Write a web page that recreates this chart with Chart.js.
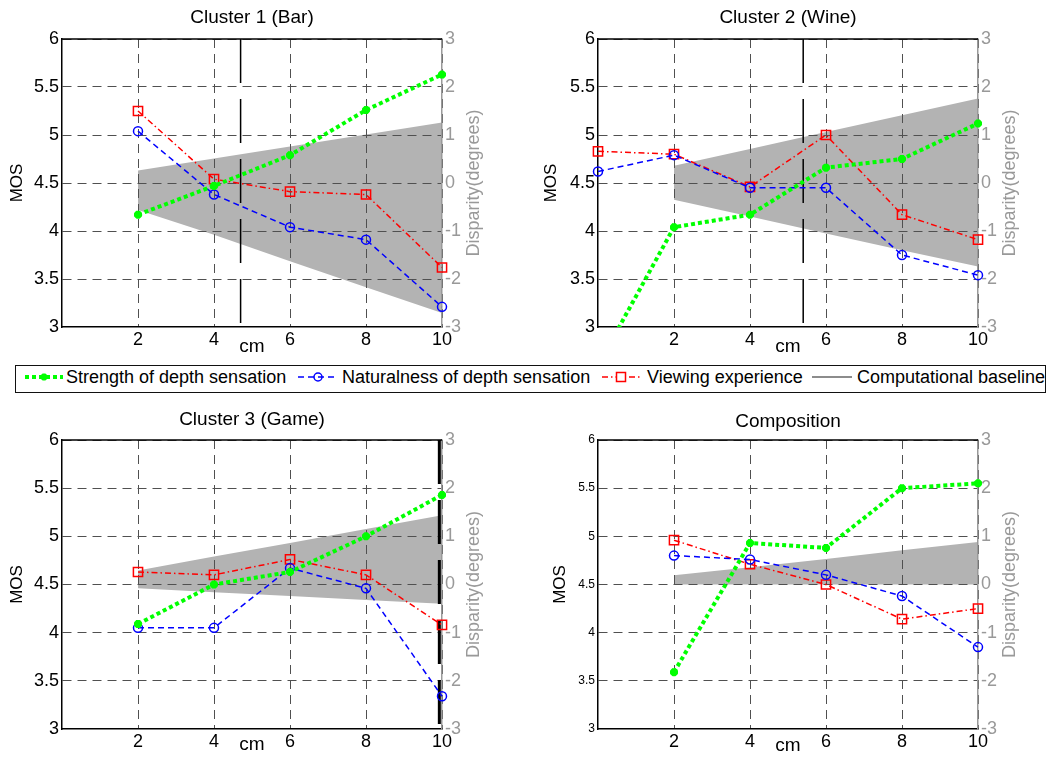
<!DOCTYPE html>
<html>
<head>
<meta charset="utf-8">
<script src="https://cdn.jsdelivr.net/npm/chart.js@4/dist/chart.umd.min.js"></script>
<style>
html,body{margin:0;padding:0;background:#fff;}
#wrap{position:relative;width:1050px;height:757px;overflow:hidden;font-family:'Liberation Sans',Arial,sans-serif;}
#wrap canvas{position:absolute;}
#legend{position:absolute;left:15px;top:365px;width:1031px;height:28px;border:1.5px solid #111;box-sizing:border-box;}
.li{position:absolute;top:367px;height:20px;line-height:20px;font-size:18px;color:#000;white-space:nowrap;}
.ls{position:absolute;top:367px;}
</style>
</head>
<body>
<div id="wrap">
  <canvas id="c1" width="525" height="360" style="left:0;top:0"></canvas>
  <canvas id="c2" width="525" height="360" style="left:525px;top:0"></canvas>
  <canvas id="c3" width="525" height="357" style="left:0;top:400px"></canvas>
  <canvas id="c4" width="525" height="357" style="left:525px;top:400px"></canvas>
  <div id="legend"></div>
</div>
<script>
// ---------------- DATA ----------------
const cmValues = [2, 4, 6, 8, 10];
const cmValuesWine = [0, 2, 4, 6, 8, 10];
const cmTicks = [2, 4, 6, 8, 10];
const mosTicks = [3, 3.5, 4, 4.5, 5, 5.5, 6];
const disparityTicks = [-3, -2, -1, 0, 1, 2, 3];

const seriesNames = ['Strength of depth sensation', 'Naturalness of depth sensation', 'Viewing experience', 'Computational baseline'];
const panelTitles = ['Cluster 1 (Bar)', 'Cluster 2 (Wine)', 'Cluster 3 (Game)', 'Composition'];

// Cluster 1 (Bar)
const barStrength    = [4.17, 4.47, 4.79, 5.26, 5.63];
const barNaturalness = [5.04, 4.38, 4.04, 3.91, 3.21];
const barViewing     = [5.25, 4.54, 4.41, 4.38, 3.62];
const barDispUpper   = [0.26, 0.51, 0.76, 1.01, 1.26];
const barDispLower   = [-0.56, -1.08, -1.63, -2.17, -2.71];

// Cluster 2 (Wine) - includes 0 cm
const wineStrength    = [2.6, 4.04, 4.17, 4.66, 4.75, 5.12];
const wineNaturalness = [4.62, 4.79, 4.45, 4.45, 3.75, 3.54];
const wineViewing     = [4.83, 4.80, 4.46, 5.00, 4.17, 3.91];
const wineDispUpper   = [0.36, 0.71, 1.06, 1.41, 1.76];
const wineDispLower   = [-0.35, -0.70, -1.05, -1.40, -1.74];

// Cluster 3 (Game)
const gameStrength    = [4.09, 4.50, 4.63, 5.00, 5.43];
const gameNaturalness = [4.05, 4.05, 4.67, 4.46, 3.34];
const gameViewing     = [4.63, 4.60, 4.76, 4.60, 4.08];
const gameDispUpper   = [0.29, 0.58, 0.86, 1.15, 1.44];
const gameDispLower   = [-0.08, -0.16, -0.24, -0.32, -0.40];

// Composition
const compStrength    = [3.59, 4.93, 4.88, 5.50, 5.55];
const compNaturalness = [4.80, 4.76, 4.60, 4.38, 3.85];
const compViewing     = [4.96, 4.71, 4.50, 4.14, 4.25];
const compDispUpper   = [0.19, 0.36, 0.53, 0.71, 0.88];
const compDispLower   = [0, 0, 0, 0, 0];

// Computational baseline (cm) per panel
const computationalBaseline = [4.7, 5.4, 9.93, null];

// ---------------- STYLE / LAYOUT ----------------
const FONT = "'Liberation Sans', Arial, sans-serif";
Chart.defaults.font.family = FONT;
const GREY = '#999999';
const GRID = '#505050';

const panels = [
  {xs: cmValues, s: barStrength, n: barNaturalness, v: barViewing, up: barDispUpper, lo: barDispLower},
  {xs: cmValuesWine, s: wineStrength, n: wineNaturalness, v: wineViewing, up: wineDispUpper, lo: wineDispLower},
  {xs: cmValues, s: gameStrength, n: gameNaturalness, v: gameViewing, up: gameDispUpper, lo: gameDispLower},
  {xs: cmValues, s: compStrength, n: compNaturalness, v: compViewing, up: compDispUpper, lo: compDispLower}
];

const layouts = [
  {id:'c1', w:525, h:360, left:62, right:442, top:39, bottom:327, titlePad:{top:6.6,bottom:9.6}, mosPad:6.8, cmPad:2, leftTick:18, baseW:1.5},
  {id:'c2', w:525, h:360, left:73, right:453, top:39, bottom:327, titlePad:{top:6.6,bottom:9.6}, mosPad:16.5, cmPad:2, leftTick:18, baseW:1.5},
  {id:'c3', w:525, h:357, left:62, right:442, top:40, bottom:329, titlePad:{top:8.6,bottom:8.6}, mosPad:6.8, cmPad:0.6, leftTick:18, baseW:3},
  {id:'c4', w:525, h:357, left:73, right:453, top:40, bottom:329, titlePad:{top:10.6,bottom:6.6}, mosPad:24.8, cmPad:0, leftTick:12, baseW:1.5}
];

const CLIP = {left: 10, top: 10, right: 10, bottom: 0};

function xy(xs, ys) { return ys.map((y, i) => ({x: xs[i], y: y})); }

const framePlugin = {
  id: 'frame',
  afterDraw(chart, args, opts) {
    const {ctx, chartArea: a} = chart;
    ctx.save();
    ctx.strokeStyle = '#000';
    ctx.lineWidth = 1.5;
    ctx.beginPath();
    ctx.moveTo(a.left, a.top);
    ctx.lineTo(a.right, a.top);
    ctx.stroke();
    ctx.fillStyle = opts.color;
    ctx.font = opts.size + 'px ' + FONT;
    ctx.translate(a.right + opts.offset, (a.top + a.bottom) / 2);
    ctx.rotate(-Math.PI / 2);
    ctx.textAlign = 'center';
    ctx.textBaseline = 'middle';
    ctx.fillText(opts.text, 0, 0);
    ctx.restore();
  }
};

function build(idx) {
  const L = layouts[idx], P = panels[idx];
  const dispX = cmValues;
  const datasets = [
    {label: seriesNames[0], data: xy(P.xs, P.s), yAxisID: 'y',
     borderColor: '#00ff00', backgroundColor: '#00ff00', borderWidth: 4, borderDash: [4, 3],
     pointStyle: 'star', pointRadius: 4, pointBorderWidth: 3, pointBorderColor: '#00ff00',
     tension: 0, clip: CLIP},
    {label: seriesNames[1], data: xy(P.xs, P.n), yAxisID: 'y',
     borderColor: '#0000ff', backgroundColor: 'rgba(0,0,0,0)', borderWidth: 1.5, borderDash: [6, 4],
     pointStyle: 'circle', pointRadius: 4.5, pointBorderWidth: 1.5, pointBorderColor: '#0000ff',
     pointBackgroundColor: 'rgba(0,0,0,0)', tension: 0, clip: CLIP},
    {label: seriesNames[2], data: xy(P.xs, P.v), yAxisID: 'y',
     borderColor: '#ff0000', backgroundColor: 'rgba(0,0,0,0)', borderWidth: 1.5, borderDash: [6, 3, 1.5, 3],
     pointStyle: 'rect', pointRadius: 6.5, pointBorderWidth: 1.5, pointBorderColor: '#ff0000',
     pointBackgroundColor: 'rgba(0,0,0,0)', tension: 0, clip: CLIP}
  ];
  const b = computationalBaseline[idx];
  if (b !== null) {
    datasets.push({label: seriesNames[3], data: [{x: b, y: mosTicks[mosTicks.length - 1]}, {x: b, y: mosTicks[0]}],
      yAxisID: 'y', borderColor: '#000', borderWidth: L.baseW, borderDash: [44, 16], pointRadius: 0, fill: false});
  }
  datasets.push({label: 'disparity upper', data: xy(dispX, P.up), yAxisID: 'y1',
    borderColor: 'rgba(0,0,0,0)', borderWidth: 0, pointRadius: 0, fill: '+1', backgroundColor: '#b3b3b3'});
  datasets.push({label: 'disparity lower', data: xy(dispX, P.lo), yAxisID: 'y1',
    borderColor: 'rgba(0,0,0,0)', borderWidth: 0, pointRadius: 0, fill: false});

  return new Chart(document.getElementById(L.id), {
    type: 'line',
    data: {datasets},
    plugins: [framePlugin],
    options: {
      responsive: false, animation: false, devicePixelRatio: 1, events: [],
      layout: {padding: 0},
      plugins: {
        legend: {display: false},
        tooltip: {enabled: false},
        filler: {drawTime: 'beforeDraw'},
        title: {display: true, text: panelTitles[idx], fullSize: false, color: '#000',
                font: {size: 19, weight: 'normal'}, padding: L.titlePad},
        frame: {text: 'Disparity(degrees)', color: GREY, size: 18, offset: 32}
      },
      scales: {
        x: {
          type: 'linear', position: 'bottom', min: 0, max: 10,
          afterBuildTicks: s => { s.ticks = cmTicks.map(v => ({value: v})); },
          afterFit: s => { s.height = L.h - L.bottom; },
          grid: {color: GRID, lineWidth: 1, drawTicks: false},
          border: {display: true, color: '#000', width: 1.5, dash: [9, 6]},
          ticks: {font: {size: 18}, color: '#000', padding: 2, maxRotation: 0, autoSkip: false,
                  callback: v => String(v)},
          title: {display: true, text: 'cm', color: '#000', font: {size: 19}, padding: {top: 0, bottom: L.cmPad}}
        },
        y: {
          type: 'linear', position: 'left', min: mosTicks[0], max: mosTicks[mosTicks.length - 1],
          afterBuildTicks: s => { s.ticks = mosTicks.map(v => ({value: v})); },
          afterFit: s => { s.width = L.left; },
          grid: {color: c => (c.tick && c.tick.value === mosTicks[0]) ? 'rgba(0,0,0,0)' : GRID, lineWidth: 1, drawTicks: false},
          border: {display: true, color: '#000', width: 1.5, dash: [9, 6]},
          ticks: {font: {size: L.leftTick}, color: '#000', padding: 3, callback: v => String(v)},
          title: {display: true, text: 'MOS', color: '#000', font: {size: 17}, padding: {top: L.mosPad, bottom: 0}}
        },
        y1: {
          type: 'linear', position: 'right', min: disparityTicks[0], max: disparityTicks[disparityTicks.length - 1],
          afterBuildTicks: s => { s.ticks = disparityTicks.map(v => ({value: v})); },
          afterFit: s => { s.width = L.w - L.right; },
          grid: {drawOnChartArea: false, drawTicks: false},
          border: {display: true, color: GREY, width: 1.5},
          ticks: {font: {size: 18}, color: GREY, padding: 3, callback: v => String(v)}
        }
      }
    }
  });
}

[0, 1, 2, 3].forEach(build);

// ---------------- LEGEND (HTML) ----------------
const legendTextX = [66, 342, 647, 857];
const legendSampleX = [25, 298, 602, 812];
const wrap = document.getElementById('wrap');
const samples = [
  '<svg width="38" height="20"><line x1="0" y1="10" x2="38" y2="10" stroke="#00ff00" stroke-width="4" stroke-dasharray="4 3"/>' +
    '<g stroke="#00ff00" stroke-width="2.5"><line x1="15.5" y1="10" x2="22.5" y2="10"/><line x1="19" y1="6.5" x2="19" y2="13.5"/><line x1="16.5" y1="7.5" x2="21.5" y2="12.5"/><line x1="16.5" y1="12.5" x2="21.5" y2="7.5"/></g></svg>',
  '<svg width="40" height="20"><line x1="0" y1="10" x2="40" y2="10" stroke="#0000ff" stroke-width="1.5" stroke-dasharray="6 4"/>' +
    '<circle cx="20" cy="10" r="4" fill="none" stroke="#0000ff" stroke-width="1.5"/></svg>',
  '<svg width="38" height="20"><line x1="0" y1="10" x2="38" y2="10" stroke="#ff0000" stroke-width="1.5" stroke-dasharray="6 3 1.5 3"/>' +
    '<rect x="14.5" y="5.5" width="9" height="9" fill="#fff" stroke="#ff0000" stroke-width="1.5"/></svg>',
  '<svg width="40" height="20"><line x1="0" y1="10" x2="40" y2="10" stroke="#666" stroke-width="1.5"/></svg>'
];
seriesNames.forEach((name, i) => {
  const s = document.createElement('div');
  s.className = 'ls';
  s.style.left = legendSampleX[i] + 'px';
  s.innerHTML = samples[i];
  wrap.appendChild(s);
  const t = document.createElement('span');
  t.className = 'li';
  t.style.left = legendTextX[i] + 'px';
  t.textContent = name;
  wrap.appendChild(t);
});
</script>
</body>
</html>
